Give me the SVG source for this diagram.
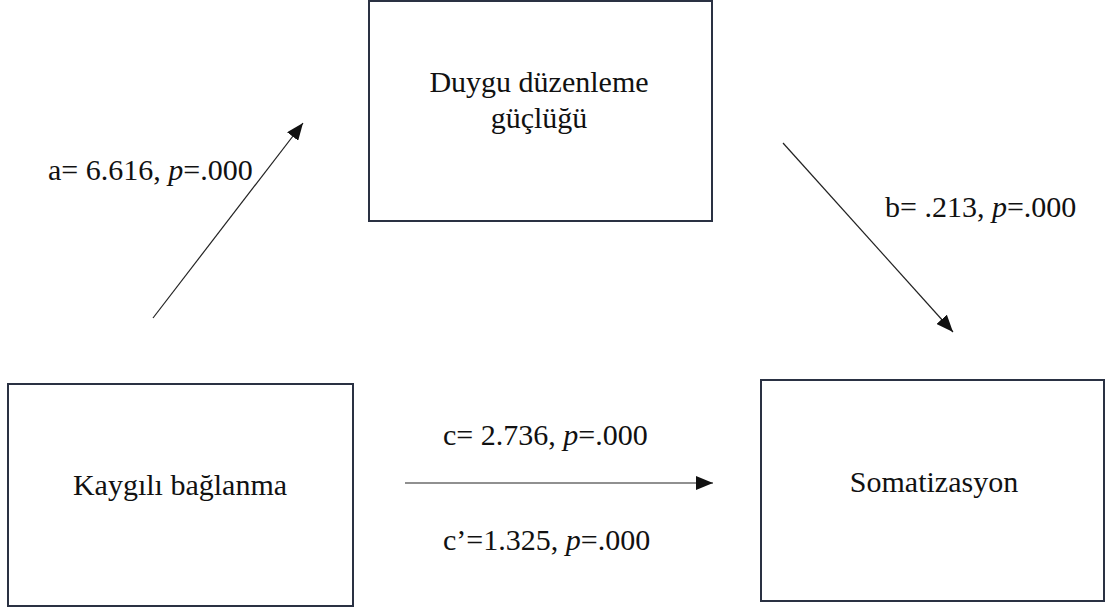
<svg xmlns="http://www.w3.org/2000/svg" width="1108" height="609" viewBox="0 0 1108 609">
<style>
.box{fill:#ffffff;stroke:#2a3143;stroke-width:2}
.lbl{font-family:"Liberation Serif","Times New Roman",serif;font-size:30px;fill:#111}
.edge{stroke:#222;stroke-width:1.2;fill:none}
.it{font-style:italic}
</style>
<defs>
<marker id="ah" markerUnits="userSpaceOnUse" markerWidth="18" markerHeight="14" refX="17" refY="7" orient="auto">
<path d="M0,0 L17,7 L0,14 Z" fill="#111"/>
</marker>
</defs>
<rect width="1108" height="609" fill="#ffffff"/>
<g id="connectors">
<line class="edge" x1="153" y1="318" x2="303" y2="123" marker-end="url(#ah)"/>
<line class="edge" x1="783" y1="143" x2="953" y2="332" marker-end="url(#ah)"/>
<line class="edge" x1="405" y1="483" x2="713" y2="483" marker-end="url(#ah)"/>
<text class="lbl" x="48" y="180">a= 6.616, <tspan class="it">p</tspan>=.000</text>
<text class="lbl" x="885" y="217">b= .213, <tspan class="it">p</tspan>=.000</text>
<text class="lbl" x="443" y="445">c= 2.736, <tspan class="it">p</tspan>=.000</text>
<text class="lbl" x="443" y="550">c’=1.325, <tspan class="it">p</tspan>=.000</text>
</g>
<g id="node-duygu">
<rect class="box" x="369" y="1" width="343" height="220"/>
<text class="lbl" x="539" y="92" text-anchor="middle">Duygu düzenleme</text>
<text class="lbl" x="539" y="128" text-anchor="middle">güçlüğü</text>
</g>
<g id="node-kaygili">
<rect class="box" x="8" y="384" width="345" height="222"/>
<text class="lbl" x="180" y="495" text-anchor="middle">Kaygılı bağlanma</text>
</g>
<g id="node-somatizasyon">
<rect class="box" x="761" y="380" width="343" height="221"/>
<text class="lbl" x="934" y="492" text-anchor="middle">Somatizasyon</text>
</g>
</svg>
